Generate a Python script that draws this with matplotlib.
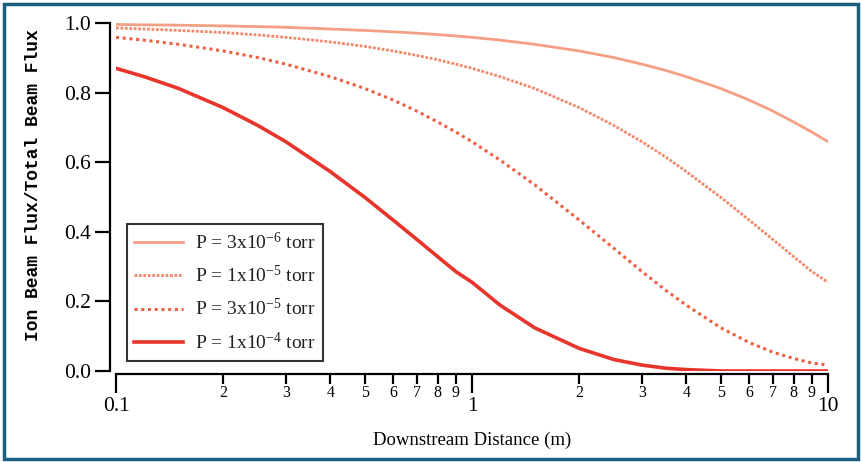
import numpy as np
import matplotlib
matplotlib.use('Agg')
import matplotlib.pyplot as plt
from matplotlib.ticker import FixedLocator, FixedFormatter
from matplotlib.patches import Rectangle

# downstream distance (m)
distance = [0.1, 0.12, 0.15, 0.2, 0.25, 0.3, 0.4, 0.5, 0.6, 0.7, 0.8, 0.9, 1.0,
            1.2, 1.5, 2.0, 2.5, 3.0, 3.5, 4.0, 5.0, 6.0, 7.0, 8.0, 9.0, 10.0]

# ion beam flux / total beam flux for each background pressure
flux_3e6 = [0.996, 0.995, 0.994, 0.992, 0.990, 0.988, 0.983, 0.979, 0.975, 0.971, 0.967, 0.963, 0.959,
            0.951, 0.939, 0.920, 0.901, 0.882, 0.864, 0.846, 0.812, 0.779, 0.747, 0.716, 0.687, 0.659]
flux_1e5 = [0.986, 0.983, 0.979, 0.973, 0.966, 0.959, 0.946, 0.933, 0.920, 0.907, 0.895, 0.882, 0.870,
            0.846, 0.812, 0.757, 0.706, 0.659, 0.615, 0.573, 0.499, 0.434, 0.378, 0.329, 0.286, 0.255]
flux_3e5 = [0.959, 0.951, 0.939, 0.920, 0.901, 0.882, 0.846, 0.812, 0.779, 0.747, 0.716, 0.687, 0.659,
            0.606, 0.535, 0.434, 0.353, 0.286, 0.232, 0.189, 0.124, 0.082, 0.054, 0.036, 0.023, 0.017]
flux_1e4 = [0.870, 0.846, 0.812, 0.757, 0.706, 0.659, 0.573, 0.499, 0.434, 0.378, 0.329, 0.286, 0.255,
            0.189, 0.124, 0.065, 0.033, 0.017, 0.008, 0.004, 0.0, 0.0, 0.0, 0.0, 0.0, 0.0]

labels = ['P = 3x10$^{-6}$ torr', 'P = 1x10$^{-5}$ torr',
          'P = 3x10$^{-5}$ torr', 'P = 1x10$^{-4}$ torr']

plt.rcParams['font.family'] = 'Liberation Serif'
plt.rcParams['mathtext.fontset'] = 'custom'
plt.rcParams['mathtext.rm'] = 'Liberation Serif'
plt.rcParams['mathtext.it'] = 'Liberation Serif'
plt.rcParams['text.color'] = '#222222'

fig = plt.figure(figsize=(8.62, 4.62), dpi=100)
ax = fig.add_axes([0.1346, 0.197, 0.826, 0.753])

ax.plot(distance, flux_3e6, color='#f5a084', lw=2.0, label=labels[0])
ax.plot(distance, flux_1e5, color='#f2886a', lw=2.0, ls=(0, (1, 0.6)), label=labels[1])
ax.plot(distance, flux_3e5, color='#ee5f42', lw=2.2, ls=(0, (1, 1.2)), label=labels[2])
ax.plot(distance, flux_1e4, color='#e8352b', lw=2.6, label=labels[3])

ax.set_xscale('log')
ax.set_xlim(0.1, 10)
ax.set_ylim(0, 1.0)

for s in ['top', 'right']:
    ax.spines[s].set_visible(False)
ax.spines['left'].set_position(('outward', 4))
ax.spines['bottom'].set_position(('outward', 2))
for s in ['left', 'bottom']:
    ax.spines[s].set_linewidth(1.6)

ax.set_yticks([0.0, 0.2, 0.4, 0.6, 0.8, 1.0])
ax.set_yticklabels(['0.0', '0.2', '0.4', '0.6', '0.8', '1.0'])
ax.tick_params(axis='y', length=11, width=1.6, labelsize=15.5, pad=3)

ax.xaxis.set_major_locator(FixedLocator([0.1, 1, 10]))
ax.xaxis.set_major_formatter(FixedFormatter(['0.1', '1', '10']))
minors = [k * d for d in (0.1, 1) for k in range(2, 10)]
ax.xaxis.set_minor_locator(FixedLocator(minors))
ax.xaxis.set_minor_formatter(FixedFormatter([str(k) for k in range(2, 10)] * 2))
ax.tick_params(axis='x', which='major', length=14, width=1.6, labelsize=15.5, pad=3)
ax.tick_params(axis='x', which='minor', length=7, width=1.6, labelsize=11.5, pad=1)

ax.set_xlabel('Downstream Distance (m)', fontsize=13.5, labelpad=11)
ax.set_ylabel('Ion Beam Flux/Total Beam Flux', fontsize=13, fontweight='bold',
              family='Liberation Mono')
ax.yaxis.set_label_coords(-0.104, 0.535)

leg = ax.legend(loc='lower left', bbox_to_anchor=(0.015, 0.03), borderaxespad=0,
                fontsize=14, frameon=True, fancybox=False, handlelength=2.5,
                labelspacing=0.62, borderpad=0.4, handletextpad=0.6)
leg.get_frame().set_edgecolor('black')
leg.get_frame().set_linewidth(1.5)

fig.patches.append(Rectangle((4 / 862, 3 / 462), 854 / 862, 455 / 462, transform=fig.transFigure,
                             fill=False, edgecolor='#1d5f80', lw=2.5))

fig.savefig('out.png', dpi=100)
